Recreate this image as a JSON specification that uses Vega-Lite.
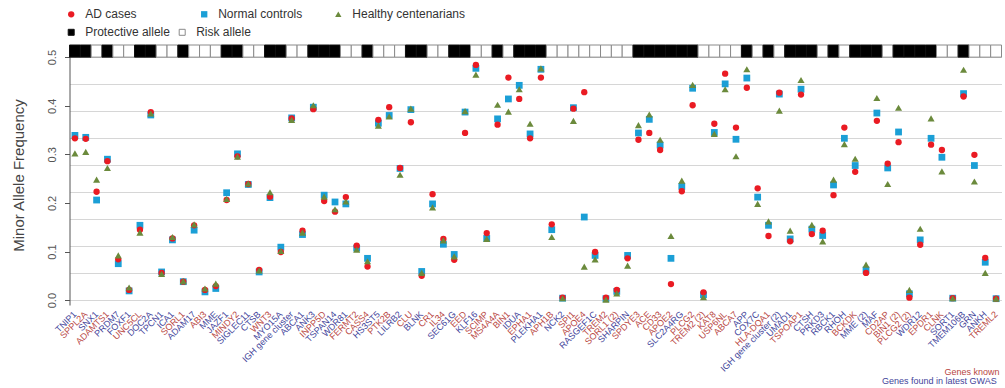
{
"$schema": "https://vega.github.io/schema/vega-lite/v6.json",
"width": 932, "height": 260,
"autosize": {"type": "none"},
"padding": {"left": 69.5, "top": 45, "right": 3.5, "bottom": 83},
"background": "#ffffff",
"config": {"view": {"stroke": null}, "font": "Liberation Sans", "legend": {"labelFont": "Liberation Sans"}, "axis": {"labelFont": "Liberation Sans", "titleFont": "Liberation Sans"}, "text": {"font": "Liberation Sans"}},
"datasets": {
"genes": [
{"gene":"TNIP1","status":"Genes found in latest GWAS","allele":"Protective allele"},
{"gene":"SPPL2A","status":"Genes known","allele":"Protective allele"},
{"gene":"SNX1","status":"Genes found in latest GWAS","allele":"Risk allele"},
{"gene":"ADAMTS1","status":"Genes known","allele":"Protective allele"},
{"gene":"PRDM7","status":"Genes found in latest GWAS","allele":"Risk allele"},
{"gene":"FOXF1","status":"Genes found in latest GWAS","allele":"Risk allele"},
{"gene":"UNC5CL","status":"Genes known","allele":"Protective allele"},
{"gene":"DOC2A","status":"Genes found in latest GWAS","allele":"Protective allele"},
{"gene":"TPCN1","status":"Genes found in latest GWAS","allele":"Risk allele"},
{"gene":"ICA1","status":"Genes found in latest GWAS","allele":"Risk allele"},
{"gene":"SORL1","status":"Genes known","allele":"Protective allele"},
{"gene":"ADAM17","status":"Genes found in latest GWAS","allele":"Risk allele"},
{"gene":"ABI3","status":"Genes known","allele":"Risk allele"},
{"gene":"MME","status":"Genes found in latest GWAS","allele":"Risk allele"},
{"gene":"JAZF1","status":"Genes found in latest GWAS","allele":"Protective allele"},
{"gene":"MINDY2","status":"Genes known","allele":"Protective allele"},
{"gene":"SIGLEC11","status":"Genes found in latest GWAS","allele":"Risk allele"},
{"gene":"CTSB","status":"Genes found in latest GWAS","allele":"Risk allele"},
{"gene":"WNT3","status":"Genes known","allele":"Protective allele"},
{"gene":"MYO15A","status":"Genes found in latest GWAS","allele":"Protective allele"},
{"gene":"IGH gene cluster","status":"Genes found in latest GWAS","allele":"Risk allele"},
{"gene":"ABCA1","status":"Genes found in latest GWAS","allele":"Risk allele"},
{"gene":"ANK3","status":"Genes found in latest GWAS","allele":"Protective allele"},
{"gene":"INPP5D","status":"Genes known","allele":"Protective allele"},
{"gene":"TSPAN14","status":"Genes found in latest GWAS","allele":"Protective allele"},
{"gene":"WDR81","status":"Genes found in latest GWAS","allele":"Risk allele"},
{"gene":"FERMT2","status":"Genes known","allele":"Risk allele"},
{"gene":"CASS4","status":"Genes known","allele":"Protective allele"},
{"gene":"HS3ST5","status":"Genes found in latest GWAS","allele":"Risk allele"},
{"gene":"PTK2B","status":"Genes known","allele":"Risk allele"},
{"gene":"LILRB2","status":"Genes found in latest GWAS","allele":"Risk allele"},
{"gene":"CLU","status":"Genes known","allele":"Protective allele"},
{"gene":"BLNK","status":"Genes found in latest GWAS","allele":"Protective allele"},
{"gene":"CR1","status":"Genes known","allele":"Risk allele"},
{"gene":"IL34","status":"Genes known","allele":"Risk allele"},
{"gene":"SEC61G","status":"Genes found in latest GWAS","allele":"Protective allele"},
{"gene":"EED","status":"Genes known","allele":"Protective allele"},
{"gene":"KLF16","status":"Genes found in latest GWAS","allele":"Risk allele"},
{"gene":"SCIMP","status":"Genes known","allele":"Risk allele"},
{"gene":"MS4A4A","status":"Genes known","allele":"Protective allele"},
{"gene":"BIN1","status":"Genes known","allele":"Risk allele"},
{"gene":"IDUA","status":"Genes found in latest GWAS","allele":"Protective allele"},
{"gene":"EPHA1","status":"Genes known","allele":"Protective allele"},
{"gene":"PLEKHA1","status":"Genes found in latest GWAS","allele":"Protective allele"},
{"gene":"APH1B","status":"Genes known","allele":"Risk allele"},
{"gene":"NCK2","status":"Genes found in latest GWAS","allele":"Risk allele"},
{"gene":"SPI1","status":"Genes known","allele":"Risk allele"},
{"gene":"APOE4","status":"Genes known","allele":"Risk allele"},
{"gene":"RASGEF1C","status":"Genes found in latest GWAS","allele":"Risk allele"},
{"gene":"TREM2","status":"Genes known","allele":"Risk allele"},
{"gene":"SORL1 (2)","status":"Genes known","allele":"Risk allele"},
{"gene":"SHARPIN","status":"Genes found in latest GWAS","allele":"Risk allele"},
{"gene":"SPDYE3","status":"Genes known","allele":"Protective allele"},
{"gene":"ACE","status":"Genes known","allele":"Protective allele"},
{"gene":"CD33","status":"Genes known","allele":"Protective allele"},
{"gene":"APOE2","status":"Genes known","allele":"Protective allele"},
{"gene":"SLC2A4RG","status":"Genes found in latest GWAS","allele":"Protective allele"},
{"gene":"PLCG2","status":"Genes known","allele":"Protective allele"},
{"gene":"TREM2 (2)","status":"Genes known","allele":"Risk allele"},
{"gene":"KAT8","status":"Genes known","allele":"Risk allele"},
{"gene":"USP6NL","status":"Genes known","allele":"Risk allele"},
{"gene":"ABCA7","status":"Genes known","allele":"Risk allele"},
{"gene":"APP","status":"Genes found in latest GWAS","allele":"Protective allele"},
{"gene":"COX7C","status":"Genes found in latest GWAS","allele":"Risk allele"},
{"gene":"HLA-DQA1","status":"Genes known","allele":"Protective allele"},
{"gene":"IGH gene cluster (2)","status":"Genes found in latest GWAS","allele":"Risk allele"},
{"gene":"UMAD1","status":"Genes found in latest GWAS","allele":"Protective allele"},
{"gene":"TSPOAP1","status":"Genes known","allele":"Protective allele"},
{"gene":"CTSH","status":"Genes found in latest GWAS","allele":"Protective allele"},
{"gene":"PRKD3","status":"Genes found in latest GWAS","allele":"Risk allele"},
{"gene":"RBCK1","status":"Genes found in latest GWAS","allele":"Protective allele"},
{"gene":"RHOH","status":"Genes found in latest GWAS","allele":"Risk allele"},
{"gene":"BCKDK","status":"Genes known","allele":"Protective allele"},
{"gene":"MME (2)","status":"Genes found in latest GWAS","allele":"Protective allele"},
{"gene":"MAF","status":"Genes found in latest GWAS","allele":"Protective allele"},
{"gene":"CD2AP","status":"Genes known","allele":"Risk allele"},
{"gene":"BIN1 (2)","status":"Genes known","allele":"Protective allele"},
{"gene":"PLCG2 (2)","status":"Genes known","allele":"Protective allele"},
{"gene":"WDR12","status":"Genes found in latest GWAS","allele":"Protective allele"},
{"gene":"EPDR1","status":"Genes known","allele":"Protective allele"},
{"gene":"CLNK","status":"Genes known","allele":"Risk allele"},
{"gene":"SORT1","status":"Genes found in latest GWAS","allele":"Risk allele"},
{"gene":"TMEM106B","status":"Genes found in latest GWAS","allele":"Protective allele"},
{"gene":"GRN","status":"Genes found in latest GWAS","allele":"Risk allele"},
{"gene":"ANKH","status":"Genes found in latest GWAS","allele":"Risk allele"},
{"gene":"TREML2","status":"Genes known","allele":"Risk allele"}
],
"maf": [
{"gene":"TNIP1","group":"Normal controls","maf":0.339},{"gene":"TNIP1","group":"AD cases","maf":0.333},{"gene":"TNIP1","group":"Healthy centenarians","maf":0.302},
{"gene":"SPPL2A","group":"Normal controls","maf":0.335},{"gene":"SPPL2A","group":"AD cases","maf":0.332},{"gene":"SPPL2A","group":"Healthy centenarians","maf":0.305},
{"gene":"SNX1","group":"Normal controls","maf":0.206},{"gene":"SNX1","group":"AD cases","maf":0.223},{"gene":"SNX1","group":"Healthy centenarians","maf":0.248},
{"gene":"ADAMTS1","group":"Normal controls","maf":0.290},{"gene":"ADAMTS1","group":"AD cases","maf":0.286},{"gene":"ADAMTS1","group":"Healthy centenarians","maf":0.272},
{"gene":"PRDM7","group":"Normal controls","maf":0.075},{"gene":"PRDM7","group":"AD cases","maf":0.084},{"gene":"PRDM7","group":"Healthy centenarians","maf":0.092},
{"gene":"FOXF1","group":"Normal controls","maf":0.019},{"gene":"FOXF1","group":"AD cases","maf":0.021},{"gene":"FOXF1","group":"Healthy centenarians","maf":0.026},
{"gene":"UNC5CL","group":"Normal controls","maf":0.154},{"gene":"UNC5CL","group":"AD cases","maf":0.145},{"gene":"UNC5CL","group":"Healthy centenarians","maf":0.139},
{"gene":"DOC2A","group":"Normal controls","maf":0.381},{"gene":"DOC2A","group":"AD cases","maf":0.387},{"gene":"DOC2A","group":"Healthy centenarians","maf":0.384},
{"gene":"TPCN1","group":"Normal controls","maf":0.058},{"gene":"TPCN1","group":"AD cases","maf":0.056},{"gene":"TPCN1","group":"Healthy centenarians","maf":0.054},
{"gene":"ICA1","group":"Normal controls","maf":0.124},{"gene":"ICA1","group":"AD cases","maf":0.127},{"gene":"ICA1","group":"Healthy centenarians","maf":0.130},
{"gene":"SORL1","group":"Normal controls","maf":0.038},{"gene":"SORL1","group":"AD cases","maf":0.038},{"gene":"SORL1","group":"Healthy centenarians","maf":0.039},
{"gene":"ADAM17","group":"Normal controls","maf":0.144},{"gene":"ADAM17","group":"AD cases","maf":0.154},{"gene":"ADAM17","group":"Healthy centenarians","maf":0.156},
{"gene":"ABI3","group":"Normal controls","maf":0.017},{"gene":"ABI3","group":"AD cases","maf":0.021},{"gene":"ABI3","group":"Healthy centenarians","maf":0.024},
{"gene":"MME","group":"Normal controls","maf":0.024},{"gene":"MME","group":"AD cases","maf":0.029},{"gene":"MME","group":"Healthy centenarians","maf":0.034},
{"gene":"JAZF1","group":"Normal controls","maf":0.221},{"gene":"JAZF1","group":"AD cases","maf":0.206},{"gene":"JAZF1","group":"Healthy centenarians","maf":0.208},
{"gene":"MINDY2","group":"Normal controls","maf":0.301},{"gene":"MINDY2","group":"AD cases","maf":0.296},{"gene":"MINDY2","group":"Healthy centenarians","maf":0.295},
{"gene":"SIGLEC11","group":"Normal controls","maf":0.238},{"gene":"SIGLEC11","group":"AD cases","maf":0.239},{"gene":"SIGLEC11","group":"Healthy centenarians","maf":0.240},
{"gene":"CTSB","group":"Normal controls","maf":0.058},{"gene":"CTSB","group":"AD cases","maf":0.062},{"gene":"CTSB","group":"Healthy centenarians","maf":0.061},
{"gene":"WNT3","group":"Normal controls","maf":0.211},{"gene":"WNT3","group":"AD cases","maf":0.213},{"gene":"WNT3","group":"Healthy centenarians","maf":0.222},
{"gene":"MYO15A","group":"Normal controls","maf":0.109},{"gene":"MYO15A","group":"AD cases","maf":0.099},{"gene":"MYO15A","group":"Healthy centenarians","maf":0.101},
{"gene":"IGH gene cluster","group":"Normal controls","maf":0.375},{"gene":"IGH gene cluster","group":"AD cases","maf":0.374},{"gene":"IGH gene cluster","group":"Healthy centenarians","maf":0.371},
{"gene":"ABCA1","group":"Normal controls","maf":0.135},{"gene":"ABCA1","group":"AD cases","maf":0.143},{"gene":"ABCA1","group":"Healthy centenarians","maf":0.139},
{"gene":"ANK3","group":"Normal controls","maf":0.397},{"gene":"ANK3","group":"AD cases","maf":0.393},{"gene":"ANK3","group":"Healthy centenarians","maf":0.401},
{"gene":"INPP5D","group":"Normal controls","maf":0.216},{"gene":"INPP5D","group":"AD cases","maf":0.204},{"gene":"INPP5D","group":"Healthy centenarians","maf":0.213},
{"gene":"TSPAN14","group":"Normal controls","maf":0.202},{"gene":"TSPAN14","group":"AD cases","maf":0.182},{"gene":"TSPAN14","group":"Healthy centenarians","maf":0.187},
{"gene":"WDR81","group":"Normal controls","maf":0.198},{"gene":"WDR81","group":"AD cases","maf":0.212},{"gene":"WDR81","group":"Healthy centenarians","maf":0.203},
{"gene":"FERMT2","group":"Normal controls","maf":0.107},{"gene":"FERMT2","group":"AD cases","maf":0.112},{"gene":"FERMT2","group":"Healthy centenarians","maf":0.104},
{"gene":"CASS4","group":"Normal controls","maf":0.086},{"gene":"CASS4","group":"AD cases","maf":0.069},{"gene":"CASS4","group":"Healthy centenarians","maf":0.080},
{"gene":"HS3ST5","group":"Normal controls","maf":0.364},{"gene":"HS3ST5","group":"AD cases","maf":0.371},{"gene":"HS3ST5","group":"Healthy centenarians","maf":0.359},
{"gene":"PTK2B","group":"Normal controls","maf":0.380},{"gene":"PTK2B","group":"AD cases","maf":0.397},{"gene":"PTK2B","group":"Healthy centenarians","maf":0.378},
{"gene":"LILRB2","group":"Normal controls","maf":0.271},{"gene":"LILRB2","group":"AD cases","maf":0.272},{"gene":"LILRB2","group":"Healthy centenarians","maf":0.258},
{"gene":"CLU","group":"Normal controls","maf":0.392},{"gene":"CLU","group":"AD cases","maf":0.366},{"gene":"CLU","group":"Healthy centenarians","maf":0.394},
{"gene":"BLNK","group":"Normal controls","maf":0.059},{"gene":"BLNK","group":"AD cases","maf":0.050},{"gene":"BLNK","group":"Healthy centenarians","maf":0.056},
{"gene":"CR1","group":"Normal controls","maf":0.198},{"gene":"CR1","group":"AD cases","maf":0.218},{"gene":"CR1","group":"Healthy centenarians","maf":0.191},
{"gene":"IL34","group":"Normal controls","maf":0.115},{"gene":"IL34","group":"AD cases","maf":0.126},{"gene":"IL34","group":"Healthy centenarians","maf":0.123},
{"gene":"SEC61G","group":"Normal controls","maf":0.094},{"gene":"SEC61G","group":"AD cases","maf":0.083},{"gene":"SEC61G","group":"Healthy centenarians","maf":0.090},
{"gene":"EED","group":"Normal controls","maf":0.387},{"gene":"EED","group":"AD cases","maf":0.344},{"gene":"EED","group":"Healthy centenarians","maf":0.389},
{"gene":"KLF16","group":"Normal controls","maf":0.477},{"gene":"KLF16","group":"AD cases","maf":0.484},{"gene":"KLF16","group":"Healthy centenarians","maf":0.464},
{"gene":"SCIMP","group":"Normal controls","maf":0.127},{"gene":"SCIMP","group":"AD cases","maf":0.138},{"gene":"SCIMP","group":"Healthy centenarians","maf":0.126},
{"gene":"MS4A4A","group":"Normal controls","maf":0.373},{"gene":"MS4A4A","group":"AD cases","maf":0.361},{"gene":"MS4A4A","group":"Healthy centenarians","maf":0.402},
{"gene":"BIN1","group":"Normal controls","maf":0.414},{"gene":"BIN1","group":"AD cases","maf":0.458},{"gene":"BIN1","group":"Healthy centenarians","maf":0.388},
{"gene":"IDUA","group":"Normal controls","maf":0.442},{"gene":"IDUA","group":"AD cases","maf":0.414},{"gene":"IDUA","group":"Healthy centenarians","maf":0.434},
{"gene":"EPHA1","group":"Normal controls","maf":0.342},{"gene":"EPHA1","group":"AD cases","maf":0.333},{"gene":"EPHA1","group":"Healthy centenarians","maf":0.363},
{"gene":"PLEKHA1","group":"Normal controls","maf":0.475},{"gene":"PLEKHA1","group":"AD cases","maf":0.458},{"gene":"PLEKHA1","group":"Healthy centenarians","maf":0.477},
{"gene":"APH1B","group":"Normal controls","maf":0.145},{"gene":"APH1B","group":"AD cases","maf":0.156},{"gene":"APH1B","group":"Healthy centenarians","maf":0.130},
{"gene":"NCK2","group":"Normal controls","maf":0.004},{"gene":"NCK2","group":"AD cases","maf":0.005},{"gene":"NCK2","group":"Healthy centenarians","maf":0.004},
{"gene":"SPI1","group":"Normal controls","maf":0.396},{"gene":"SPI1","group":"AD cases","maf":0.394},{"gene":"SPI1","group":"Healthy centenarians","maf":0.369},
{"gene":"APOE4","group":"Normal controls","maf":0.171},{"gene":"APOE4","group":"AD cases","maf":0.428},{"gene":"APOE4","group":"Healthy centenarians","maf":0.069},
{"gene":"RASGEF1C","group":"Normal controls","maf":0.092},{"gene":"RASGEF1C","group":"AD cases","maf":0.099},{"gene":"RASGEF1C","group":"Healthy centenarians","maf":0.084},
{"gene":"TREM2","group":"Normal controls","maf":0.003},{"gene":"TREM2","group":"AD cases","maf":0.005},{"gene":"TREM2","group":"Healthy centenarians","maf":0.001},
{"gene":"SORL1 (2)","group":"Normal controls","maf":0.018},{"gene":"SORL1 (2)","group":"AD cases","maf":0.021},{"gene":"SORL1 (2)","group":"Healthy centenarians","maf":0.014},
{"gene":"SHARPIN","group":"Normal controls","maf":0.092},{"gene":"SHARPIN","group":"AD cases","maf":0.086},{"gene":"SHARPIN","group":"Healthy centenarians","maf":0.071},
{"gene":"SPDYE3","group":"Normal controls","maf":0.344},{"gene":"SPDYE3","group":"AD cases","maf":0.330},{"gene":"SPDYE3","group":"Healthy centenarians","maf":0.360},
{"gene":"ACE","group":"Normal controls","maf":0.372},{"gene":"ACE","group":"AD cases","maf":0.344},{"gene":"ACE","group":"Healthy centenarians","maf":0.382},
{"gene":"CD33","group":"Normal controls","maf":0.319},{"gene":"CD33","group":"AD cases","maf":0.309},{"gene":"CD33","group":"Healthy centenarians","maf":0.330},
{"gene":"APOE2","group":"Normal controls","maf":0.086},{"gene":"APOE2","group":"AD cases","maf":0.033},{"gene":"APOE2","group":"Healthy centenarians","maf":0.132},
{"gene":"SLC2A4RG","group":"Normal controls","maf":0.234},{"gene":"SLC2A4RG","group":"AD cases","maf":0.224},{"gene":"SLC2A4RG","group":"Healthy centenarians","maf":0.246},
{"gene":"PLCG2","group":"Normal controls","maf":0.436},{"gene":"PLCG2","group":"AD cases","maf":0.401},{"gene":"PLCG2","group":"Healthy centenarians","maf":0.443},
{"gene":"TREM2 (2)","group":"Normal controls","maf":0.011},{"gene":"TREM2 (2)","group":"AD cases","maf":0.016},{"gene":"TREM2 (2)","group":"Healthy centenarians","maf":0.006},
{"gene":"KAT8","group":"Normal controls","maf":0.345},{"gene":"KAT8","group":"AD cases","maf":0.363},{"gene":"KAT8","group":"Healthy centenarians","maf":0.342},
{"gene":"USP6NL","group":"Normal controls","maf":0.445},{"gene":"USP6NL","group":"AD cases","maf":0.466},{"gene":"USP6NL","group":"Healthy centenarians","maf":0.434},
{"gene":"ABCA7","group":"Normal controls","maf":0.331},{"gene":"ABCA7","group":"AD cases","maf":0.355},{"gene":"ABCA7","group":"Healthy centenarians","maf":0.296},
{"gene":"APP","group":"Normal controls","maf":0.457},{"gene":"APP","group":"AD cases","maf":0.437},{"gene":"APP","group":"Healthy centenarians","maf":0.475},
{"gene":"COX7C","group":"Normal controls","maf":0.212},{"gene":"COX7C","group":"AD cases","maf":0.230},{"gene":"COX7C","group":"Healthy centenarians","maf":0.198},
{"gene":"HLA-DQA1","group":"Normal controls","maf":0.154},{"gene":"HLA-DQA1","group":"AD cases","maf":0.132},{"gene":"HLA-DQA1","group":"Healthy centenarians","maf":0.162},
{"gene":"IGH gene cluster (2)","group":"Normal controls","maf":0.424},{"gene":"IGH gene cluster (2)","group":"AD cases","maf":0.427},{"gene":"IGH gene cluster (2)","group":"Healthy centenarians","maf":0.390},
{"gene":"UMAD1","group":"Normal controls","maf":0.126},{"gene":"UMAD1","group":"AD cases","maf":0.121},{"gene":"UMAD1","group":"Healthy centenarians","maf":0.143},
{"gene":"TSPOAP1","group":"Normal controls","maf":0.434},{"gene":"TSPOAP1","group":"AD cases","maf":0.423},{"gene":"TSPOAP1","group":"Healthy centenarians","maf":0.453},
{"gene":"CTSH","group":"Normal controls","maf":0.146},{"gene":"CTSH","group":"AD cases","maf":0.136},{"gene":"CTSH","group":"Healthy centenarians","maf":0.155},
{"gene":"PRKD3","group":"Normal controls","maf":0.133},{"gene":"PRKD3","group":"AD cases","maf":0.143},{"gene":"PRKD3","group":"Healthy centenarians","maf":0.121},
{"gene":"RBCK1","group":"Normal controls","maf":0.237},{"gene":"RBCK1","group":"AD cases","maf":0.216},{"gene":"RBCK1","group":"Healthy centenarians","maf":0.248},
{"gene":"RHOH","group":"Normal controls","maf":0.333},{"gene":"RHOH","group":"AD cases","maf":0.355},{"gene":"RHOH","group":"Healthy centenarians","maf":0.321},
{"gene":"BCKDK","group":"Normal controls","maf":0.277},{"gene":"BCKDK","group":"AD cases","maf":0.264},{"gene":"BCKDK","group":"Healthy centenarians","maf":0.291},
{"gene":"MME (2)","group":"Normal controls","maf":0.062},{"gene":"MME (2)","group":"AD cases","maf":0.056},{"gene":"MME (2)","group":"Healthy centenarians","maf":0.073},
{"gene":"MAF","group":"Normal controls","maf":0.385},{"gene":"MAF","group":"AD cases","maf":0.369},{"gene":"MAF","group":"Healthy centenarians","maf":0.416},
{"gene":"CD2AP","group":"Normal controls","maf":0.272},{"gene":"CD2AP","group":"AD cases","maf":0.281},{"gene":"CD2AP","group":"Healthy centenarians","maf":0.239},
{"gene":"BIN1 (2)","group":"Normal controls","maf":0.346},{"gene":"BIN1 (2)","group":"AD cases","maf":0.325},{"gene":"BIN1 (2)","group":"Healthy centenarians","maf":0.396},
{"gene":"PLCG2 (2)","group":"Normal controls","maf":0.013},{"gene":"PLCG2 (2)","group":"AD cases","maf":0.005},{"gene":"PLCG2 (2)","group":"Healthy centenarians","maf":0.021},
{"gene":"WDR12","group":"Normal controls","maf":0.124},{"gene":"WDR12","group":"AD cases","maf":0.114},{"gene":"WDR12","group":"Healthy centenarians","maf":0.147},
{"gene":"EPDR1","group":"Normal controls","maf":0.333},{"gene":"EPDR1","group":"AD cases","maf":0.320},{"gene":"EPDR1","group":"Healthy centenarians","maf":0.374},
{"gene":"CLNK","group":"Normal controls","maf":0.294},{"gene":"CLNK","group":"AD cases","maf":0.309},{"gene":"CLNK","group":"Healthy centenarians","maf":0.265},
{"gene":"SORT1","group":"Normal controls","maf":0.004},{"gene":"SORT1","group":"AD cases","maf":0.004},{"gene":"SORT1","group":"Healthy centenarians","maf":0.004},
{"gene":"TMEM106B","group":"Normal controls","maf":0.425},{"gene":"TMEM106B","group":"AD cases","maf":0.419},{"gene":"TMEM106B","group":"Healthy centenarians","maf":0.474},
{"gene":"GRN","group":"Normal controls","maf":0.277},{"gene":"GRN","group":"AD cases","maf":0.299},{"gene":"GRN","group":"Healthy centenarians","maf":0.244},
{"gene":"ANKH","group":"Normal controls","maf":0.078},{"gene":"ANKH","group":"AD cases","maf":0.087},{"gene":"ANKH","group":"Healthy centenarians","maf":0.056},
{"gene":"TREML2","group":"Normal controls","maf":0.003},{"gene":"TREML2","group":"AD cases","maf":0.003},{"gene":"TREML2","group":"Healthy centenarians","maf":0.003}
]
},
"layer": [
{
"data": {"name": "genes"},
"mark": {"type": "rect", "strokeWidth": 1},
"encoding": {
"x": {"field": "gene", "type": "nominal", "sort": null, "scale": {"type": "band", "paddingInner": 0, "paddingOuter": 0},
 "axis": {"grid": true, "gridColor": "#d6d6d6", "gridWidth": 1, "labels": false, "ticks": false, "domain": false, "title": null, "bandPosition": 0.5}},
"y": {"datum": 0.5, "type": "quantitative", "scale": {"domain": [-0.01, 0.525], "nice": false, "zero": false},
 "axis": {"orient": "right", "grid": true, "gridColor": "#d6d6d6", "values": [0, 0.05556, 0.11111, 0.16667, 0.22222, 0.27778, 0.33333, 0.38889, 0.44444, 0.5], "labels": false, "ticks": false, "domain": false, "title": null}},
"y2": {"datum": 0.525},
"color": {"field": "allele", "type": "nominal", "scale": {"domain": ["Protective allele", "Risk allele"], "range": ["#000000", "#ffffff"]},
 "legend": {"orient": "none", "legendX": -4.3, "legendY": -18.7, "direction": "horizontal", "title": null, "symbolType": "square", "symbolSize": 36, "symbolStrokeWidth": 1, "labelFontSize": 12, "labelColor": "#333333", "labelOffset": 8, "columnPadding": 6, "padding": 0}},
"stroke": {"field": "allele", "type": "nominal", "scale": {"domain": ["Protective allele", "Risk allele"], "range": ["#111111", "#8a8a8a"]},
 "legend": {"orient": "none", "legendX": -4.3, "legendY": -18.7, "direction": "horizontal", "title": null, "symbolType": "square", "symbolSize": 36, "symbolStrokeWidth": 1, "labelFontSize": 12, "labelColor": "#333333", "labelOffset": 8, "columnPadding": 6, "padding": 0}}
}
},
{
"data": {"name": "maf"},
"transform": [{"filter": {"field": "group", "equal": "Normal controls"}}],
"mark": {"type": "point", "shape": "square", "filled": true, "size": 46, "opacity": 1},
"encoding": {
"x": {"field": "gene", "type": "nominal", "sort": null, "scale": {"type": "band", "paddingInner": 0, "paddingOuter": 0}, "axis": null},
"y": {"field": "maf", "type": "quantitative", "scale": {"domain": [-0.01, 0.525], "nice": false, "zero": false},
 "axis": {"orient": "left", "values": [0, 0.1, 0.2, 0.3, 0.4, 0.5], "format": ".1f", "grid": false, "labelAngle": -90, "labelAlign": "center", "labelBaseline": "bottom", "labelFontSize": 11, "labelColor": "#555555", "labelPadding": 7, "tickSize": 5, "tickColor": "#555555", "domainColor": "#555555",
  "title": "Minor Allele Frequency", "titleFontSize": 15, "titleFontWeight": "normal", "titleColor": "#444444", "titleX": -43, "titleY": 130, "titleAngle": -90, "titleAlign": "center", "titleBaseline": "bottom"}},
"color": {"field": "group", "type": "nominal", "scale": {"domain": ["Normal controls"], "range": ["#1b9fd6"]},
 "legend": {"orient": "none", "legendX": 128.7, "legendY": -36.7, "title": null, "symbolType": "square", "symbolSize": 40, "labelFontSize": 12, "labelColor": "#333333", "labelOffset": 8, "padding": 0}}
}
},
{
"data": {"name": "maf"},
"transform": [{"filter": {"field": "group", "equal": "AD cases"}}],
"mark": {"type": "point", "shape": "circle", "filled": true, "size": 40, "opacity": 1},
"encoding": {
"x": {"field": "gene", "type": "nominal", "sort": null, "scale": {"type": "band", "paddingInner": 0, "paddingOuter": 0}, "axis": null},
"y": {"field": "maf", "type": "quantitative", "scale": {"domain": [-0.01, 0.525], "nice": false, "zero": false}, "axis": null},
"color": {"field": "group", "type": "nominal", "scale": {"domain": ["AD cases"], "range": ["#ea1b23"]},
 "legend": {"orient": "none", "legendX": -4.3, "legendY": -36.7, "title": null, "symbolType": "circle", "symbolSize": 40, "labelFontSize": 12, "labelColor": "#333333", "labelOffset": 8, "padding": 0}}
}
},
{
"data": {"name": "maf"},
"transform": [{"filter": {"field": "group", "equal": "Healthy centenarians"}}],
"mark": {"type": "point", "shape": "triangle-up", "filled": true, "size": 50, "opacity": 1},
"encoding": {
"x": {"field": "gene", "type": "nominal", "sort": null, "scale": {"type": "band", "paddingInner": 0, "paddingOuter": 0}, "axis": null},
"y": {"field": "maf", "type": "quantitative", "scale": {"domain": [-0.01, 0.525], "nice": false, "zero": false}, "axis": null},
"color": {"field": "group", "type": "nominal", "scale": {"domain": ["Healthy centenarians"], "range": ["#6b8a3c"]},
 "legend": {"orient": "none", "legendX": 262.8, "legendY": -36.7, "title": null, "symbolType": "triangle-up", "symbolSize": 40, "labelFontSize": 12, "labelColor": "#333333", "labelOffset": 8, "padding": 0}}
}
},
{
"data": {"name": "genes"},
"transform": [{"filter": {"field": "status", "equal": "Genes known"}}],
"mark": {"type": "text", "angle": 315, "align": "right", "baseline": "middle", "fontSize": 9, "font": "Liberation Sans"},
"encoding": {
"x": {"field": "gene", "type": "nominal", "sort": null, "scale": {"type": "band", "paddingInner": 0, "paddingOuter": 0}, "axis": null},
"y": {"datum": -0.026, "type": "quantitative", "scale": {"domain": [-0.01, 0.525], "nice": false, "zero": false}, "axis": null},
"text": {"field": "gene"},
"color": {"field": "status", "type": "nominal", "scale": {"domain": ["Genes known"], "range": ["#b8463f"]},
 "legend": {"orient": "none", "legendX": 866, "legendY": 322, "title": null, "symbolSize": 0, "symbolOpacity": 0, "symbolStrokeWidth": 0, "labelOffset": 0, "labelFontSize": 9, "labelFont": "Liberation Sans", "labelColor": "#b8463f", "padding": 0}}
}
},
{
"data": {"name": "genes"},
"transform": [{"filter": {"field": "status", "equal": "Genes found in latest GWAS"}}],
"mark": {"type": "text", "angle": 315, "align": "right", "baseline": "middle", "fontSize": 9, "font": "Liberation Sans"},
"encoding": {
"x": {"field": "gene", "type": "nominal", "sort": null, "scale": {"type": "band", "paddingInner": 0, "paddingOuter": 0}, "axis": null},
"y": {"datum": -0.026, "type": "quantitative", "scale": {"domain": [-0.01, 0.525], "nice": false, "zero": false}, "axis": null},
"text": {"field": "gene"},
"color": {"field": "status", "type": "nominal", "scale": {"domain": ["Genes found in latest GWAS"], "range": ["#43449a"]},
 "legend": {"orient": "none", "legendX": 803.5, "legendY": 331.5, "title": null, "symbolSize": 0, "symbolOpacity": 0, "symbolStrokeWidth": 0, "labelOffset": 0, "labelFontSize": 9, "labelFont": "Liberation Sans", "labelColor": "#43449a", "padding": 0}}
}
}
],
"resolve": {"scale": {"color": "independent", "stroke": "independent"}, "axis": {"y": "independent"}}
}
